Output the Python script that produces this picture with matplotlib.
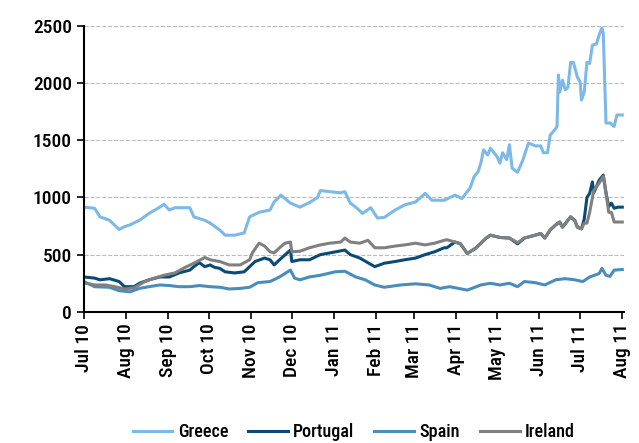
import pandas as pd
import matplotlib.pyplot as plt
import matplotlib.dates as mdates

plt.rcParams['font.family'] = ['Roboto Condensed', 'Liberation Sans Narrow', 'Liberation Sans', 'DejaVu Sans']

# 10y CDS spreads (bp)
greece_dates = ['2010-07-01', '2010-07-09', '2010-07-13', '2010-07-20', '2010-07-27', '2010-07-31',
                '2010-08-04', '2010-08-11', '2010-08-18', '2010-08-26', '2010-08-29', '2010-09-02',
                '2010-09-06', '2010-09-17', '2010-09-20', '2010-09-28', '2010-10-02', '2010-10-09',
                '2010-10-13', '2010-10-20', '2010-10-27', '2010-10-31', '2010-11-07', '2010-11-15',
                '2010-11-18', '2010-11-23', '2010-11-30', '2010-12-07', '2010-12-14', '2010-12-20',
                '2010-12-22', '2010-12-29', '2011-01-06', '2011-01-09', '2011-01-13', '2011-01-17',
                '2011-01-22', '2011-01-28', '2011-02-02', '2011-02-07', '2011-02-15', '2011-02-22',
                '2011-03-02', '2011-03-09', '2011-03-14', '2011-03-23', '2011-03-31', '2011-04-05',
                '2011-04-11', '2011-04-14', '2011-04-17', '2011-04-19', '2011-04-21', '2011-04-24',
                '2011-04-26', '2011-05-01', '2011-05-03', '2011-05-05', '2011-05-08', '2011-05-10',
                '2011-05-12', '2011-05-16', '2011-05-20', '2011-05-24', '2011-05-29', '2011-06-02',
                '2011-06-04', '2011-06-07', '2011-06-09', '2011-06-13', '2011-06-14', '2011-06-15',
                '2011-06-16', '2011-06-18', '2011-06-20', '2011-06-22', '2011-06-24', '2011-06-26',
                '2011-06-29', '2011-07-01', '2011-07-02', '2011-07-04', '2011-07-06', '2011-07-08',
                '2011-07-10', '2011-07-13', '2011-07-15', '2011-07-17', '2011-07-18', '2011-07-20',
                '2011-07-23', '2011-07-26', '2011-07-28', '2011-08-01']
greece = [915, 905, 830, 800, 720, 745,
          760, 800, 860, 915, 940, 890,
          910, 910, 830, 800, 775, 715,
          670, 670, 690, 830, 870, 890,
          960, 1020, 950, 915, 955, 1000,
          1060, 1050, 1040, 1050, 950, 915,
          860, 910, 820, 825, 890, 935,
          960, 1035, 975, 975, 1020, 990,
          1080, 1180, 1225, 1300, 1415, 1370,
          1430, 1355, 1300, 1390, 1330, 1460,
          1255, 1220, 1330, 1475, 1450, 1450,
          1390, 1390, 1545, 1600, 1620, 2070,
          1920, 2025, 1940, 1960, 2180, 2180,
          2050, 2010, 1850, 1920, 2180, 2170,
          2330, 2340, 2420, 2480, 2435, 1650,
          1650, 1620, 1720, 1720]

portugal_dates = ['2010-07-01', '2010-07-09', '2010-07-13', '2010-07-20', '2010-07-27', '2010-07-31',
                  '2010-08-07', '2010-08-11', '2010-08-18', '2010-08-26', '2010-09-02', '2010-09-09',
                  '2010-09-17', '2010-09-20', '2010-09-24', '2010-09-28', '2010-10-02', '2010-10-05',
                  '2010-10-09', '2010-10-13', '2010-10-20', '2010-10-27', '2010-10-31', '2010-11-04',
                  '2010-11-11', '2010-11-15', '2010-11-18', '2010-11-22', '2010-11-30', '2010-12-01',
                  '2010-12-07', '2010-12-14', '2010-12-22', '2010-12-29', '2011-01-09', '2011-01-13',
                  '2011-01-20', '2011-01-31', '2011-02-07', '2011-02-15', '2011-02-22', '2011-03-02',
                  '2011-03-09', '2011-03-16', '2011-03-23', '2011-03-25', '2011-03-31', '2011-04-04',
                  '2011-04-09', '2011-04-15', '2011-04-23', '2011-04-26', '2011-05-03', '2011-05-10',
                  '2011-05-16', '2011-05-21', '2011-05-29', '2011-06-02', '2011-06-05', '2011-06-09',
                  '2011-06-13', '2011-06-16', '2011-06-18', '2011-06-24', '2011-06-27', '2011-06-29',
                  '2011-07-02', '2011-07-04', '2011-07-06', '2011-07-08', '2011-07-10', '2011-07-11',
                  '2011-07-15', '2011-07-18', '2011-07-20', '2011-07-22', '2011-07-24', '2011-07-26',
                  '2011-07-29', '2011-08-01']
portugal = [305, 295, 280, 290, 265, 220,
            220, 250, 280, 305, 305, 340,
            365, 395, 430, 395, 410, 390,
            380, 350, 340, 350, 395, 440,
            470, 455, 410, 455, 540, 440,
            455, 455, 500, 515, 540, 500,
            470, 395, 425, 440, 455, 470,
            500, 525, 560, 560, 610, 595,
            510, 555, 645, 670, 650, 645,
            595, 645, 670, 685, 645, 715,
            760, 785, 740, 830, 800, 740,
            725, 810, 1000, 1035, 1135, 1040,
            1150, 1195, 1040, 920, 950, 905,
            915, 915]

spain_dates = ['2010-07-01', '2010-07-09', '2010-07-20', '2010-07-27', '2010-08-04', '2010-08-11',
               '2010-08-18', '2010-08-26', '2010-09-02', '2010-09-09', '2010-09-17', '2010-09-24',
               '2010-10-02', '2010-10-09', '2010-10-16', '2010-10-24', '2010-10-31', '2010-11-06',
               '2010-11-15', '2010-11-22', '2010-11-30', '2010-12-03', '2010-12-07', '2010-12-14',
               '2010-12-22', '2011-01-02', '2011-01-09', '2011-01-17', '2011-01-24', '2011-01-31',
               '2011-02-07', '2011-02-19', '2011-03-02', '2011-03-12', '2011-03-20', '2011-03-27',
               '2011-04-09', '2011-04-19', '2011-04-26', '2011-05-03', '2011-05-10', '2011-05-16',
               '2011-05-21', '2011-05-29', '2011-06-05', '2011-06-13', '2011-06-20', '2011-06-27',
               '2011-07-03', '2011-07-08', '2011-07-15', '2011-07-17', '2011-07-20', '2011-07-23',
               '2011-07-26', '2011-08-01']
spain = [265, 220, 215, 185, 175, 205,
         220, 235, 230, 220, 220, 230,
         220, 215, 200, 205, 215, 255,
         265, 305, 365, 295, 280, 305,
         320, 350, 355, 305, 280, 235,
         215, 235, 245, 235, 205, 220,
         190, 235, 250, 235, 250, 220,
         265, 255, 235, 280, 290, 280,
         265, 305, 335, 380, 320, 310,
         365, 370]

ireland_dates = ['2010-07-01', '2010-07-09', '2010-07-17', '2010-07-24', '2010-07-31', '2010-08-07',
                 '2010-08-15', '2010-08-22', '2010-08-29', '2010-09-06', '2010-09-13', '2010-09-20',
                 '2010-09-28', '2010-10-02', '2010-10-09', '2010-10-16', '2010-10-24', '2010-10-31',
                 '2010-11-02', '2010-11-06', '2010-11-07', '2010-11-11', '2010-11-15', '2010-11-18',
                 '2010-11-22', '2010-11-26', '2010-11-30', '2010-12-01', '2010-12-07', '2010-12-14',
                 '2010-12-22', '2010-12-29', '2011-01-06', '2011-01-09', '2011-01-13', '2011-01-20',
                 '2011-01-26', '2011-01-31', '2011-02-07', '2011-02-15', '2011-02-22', '2011-03-02',
                 '2011-03-09', '2011-03-16', '2011-03-23', '2011-03-25', '2011-03-31', '2011-04-04',
                 '2011-04-09', '2011-04-15', '2011-04-23', '2011-04-26', '2011-05-03', '2011-05-10',
                 '2011-05-16', '2011-05-21', '2011-05-29', '2011-06-02', '2011-06-05', '2011-06-09',
                 '2011-06-13', '2011-06-16', '2011-06-18', '2011-06-24', '2011-06-27', '2011-06-29',
                 '2011-07-02', '2011-07-04', '2011-07-06', '2011-07-08', '2011-07-11', '2011-07-15',
                 '2011-07-18', '2011-07-20', '2011-07-22', '2011-07-24', '2011-07-26', '2011-08-01']
ireland = [255, 235, 235, 220, 200, 210,
           265, 295, 320, 340, 385, 425,
           475, 455, 440, 410, 410, 455,
           515, 585, 600, 575, 525, 515,
           560, 600, 610, 525, 530, 560,
           585, 600, 610, 645, 610, 600,
           625, 560, 560, 575, 585, 600,
           585, 600, 625, 630, 610, 595,
           510, 555, 645, 670, 650, 645,
           605, 645, 670, 685, 645, 715,
           760, 785, 740, 830, 800, 740,
           725, 775, 775, 870, 1060, 1125,
           1185, 1040, 870, 870, 785, 785]

fig = plt.figure(figsize=(6.39, 4.43), dpi=100)
ax = fig.add_axes([0.131, 0.296, 0.845, 0.646])

ax.plot(pd.to_datetime(greece_dates), greece, color='#7cb9e8', lw=2.2, label='Greece')
ax.plot(pd.to_datetime(portugal_dates), portugal, color='#0b4a74', lw=2.2, label='Portugal')
ax.plot(pd.to_datetime(spain_dates), spain, color='#4a8dbb', lw=2.2, label='Spain')
ax.plot(pd.to_datetime(ireland_dates), ireland, color='#808080', lw=2.2, label='Ireland')

ax.set_ylim(0, 2500)
ax.set_yticks(range(0, 2501, 500))
ax.set_xlim(pd.Timestamp('2010-07-01'), pd.Timestamp('2011-08-02'))
ax.xaxis.set_major_locator(mdates.MonthLocator())
ax.xaxis.set_major_formatter(mdates.DateFormatter('%b %y'))
plt.setp(ax.get_xticklabels(), rotation=90)

ax.yaxis.grid(True, linestyle='--', color='#bbbbbb', lw=0.8)
ax.set_axisbelow(True)
for s in ['top', 'right']:
    ax.spines[s].set_visible(False)
ax.spines['left'].set_linewidth(1.5)
ax.spines['bottom'].set_linewidth(1.5)
ax.tick_params(axis='both', labelsize=14, width=1.2, length=5, color='black')
for lab in ax.get_xticklabels() + ax.get_yticklabels():
    lab.set_fontweight('medium')

leg = ax.legend(loc='center', bbox_to_anchor=(0.5, -0.42), ncol=4, frameon=False,
                fontsize=13, handlelength=2.2, columnspacing=1.1, handletextpad=0.3)
for t in leg.get_texts():
    t.set_fontweight('medium')

fig.savefig('out.png', dpi=100)
